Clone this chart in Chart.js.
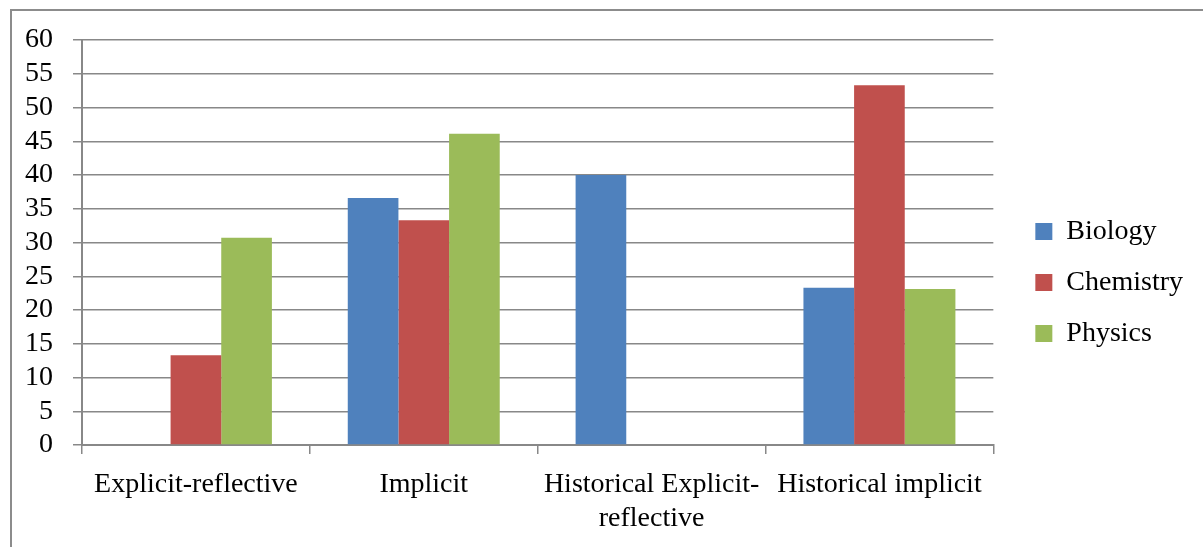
<!DOCTYPE html>
<html>
<head>
<meta charset="utf-8">
<script src="https://cdn.jsdelivr.net/npm/chart.js@4.4.1/dist/chart.umd.min.js"></script>
<style>
  html, body { margin: 0; padding: 0; background: #fff; overflow: hidden; }
  #wrap { position: relative; width: 1203px; height: 547px; }
  #frame { position: absolute; left: 10px; top: 9px; width: 1300px; height: 700px;
           border-left: 2px solid #8c8c8c; border-top: 2px solid #8c8c8c; }
  #box { position: absolute; left: 0; top: 0; width: 1203px; height: 547px; }
</style>
</head>
<body>
<div id="wrap">
  <div id="frame"></div>
  <div id="box"><canvas id="myChart" width="1203" height="547"></canvas></div>
</div>
<script>
var categories = ['Explicit-reflective', 'Implicit', ['Historical Explicit-', 'reflective'], 'Historical implicit'];
var biology = [null, 36.6, 40.0, 23.3];
var chemistry = [13.3, 33.3, null, 53.3];
var physics = [30.7, 46.1, null, 23.1];
var y_ticks = [0, 5, 10, 15, 20, 25, 30, 35, 40, 45, 50, 55, 60];

var font_family = '"Liberation Serif", "Times New Roman", serif';
var grid_color = '#888888';

Chart.defaults.font.family = font_family;
Chart.defaults.color = '#000';

// nudge the legend block after layout so it sits a bit off the plot area
var legend_nudge = {
    id: 'legend_nudge',
    afterLayout: function (chart) {
        var lg = chart.legend;
        if (!lg) return;
        lg.left += 19;
        lg.right += 19;
        lg.top -= 11;
        lg.bottom -= 11;
    }
};

var ctx = document.getElementById('myChart');
var chart = new Chart(ctx, {
    type: 'bar',
    data: {
        labels: categories,
        datasets: [
            { label: 'Biology', data: biology, backgroundColor: '#4F81BD' },
            { label: 'Chemistry', data: chemistry, backgroundColor: '#C0504D' },
            { label: 'Physics', data: physics, backgroundColor: '#9BBB59' }
        ]
    },
    plugins: [legend_nudge],
    options: {
        responsive: false,
        animation: false,
        categoryPercentage: 0.667,
        barPercentage: 1.0,
        layout: { padding: { left: 10, top: 40, right: 29, bottom: 0 } },
        scales: {
            x: {
                grid: { display: true, drawOnChartArea: false, drawTicks: true, tickLength: 9, color: grid_color, lineWidth: 1.5, offset: true },
                border: { display: true, color: grid_color, width: 2 },
                ticks: { font: { size: 28, lineHeight: 1.2 }, maxRotation: 0, autoSkip: false, padding: 14 },
                afterFit: function (s) { s.height = 102; }
            },
            y: {
                min: 0,
                max: 60,
                afterBuildTicks: function (s) { s.ticks = y_ticks.map(function (v) { return { value: v }; }); },
                grid: { color: grid_color, lineWidth: 1.5, tickLength: 9 },
                border: { display: true, color: grid_color, width: 2 },
                ticks: { font: { size: 28 }, padding: 20, autoSkip: false },
                afterFit: function (s) { s.width = 72; }
            }
        },
        plugins: {
            legend: {
                position: 'right',
                labels: { font: { size: 28 }, boxWidth: 17, boxHeight: 17, padding: 23 }
            },
            tooltip: { enabled: false }
        }
    }
});
</script>
</body>
</html>
